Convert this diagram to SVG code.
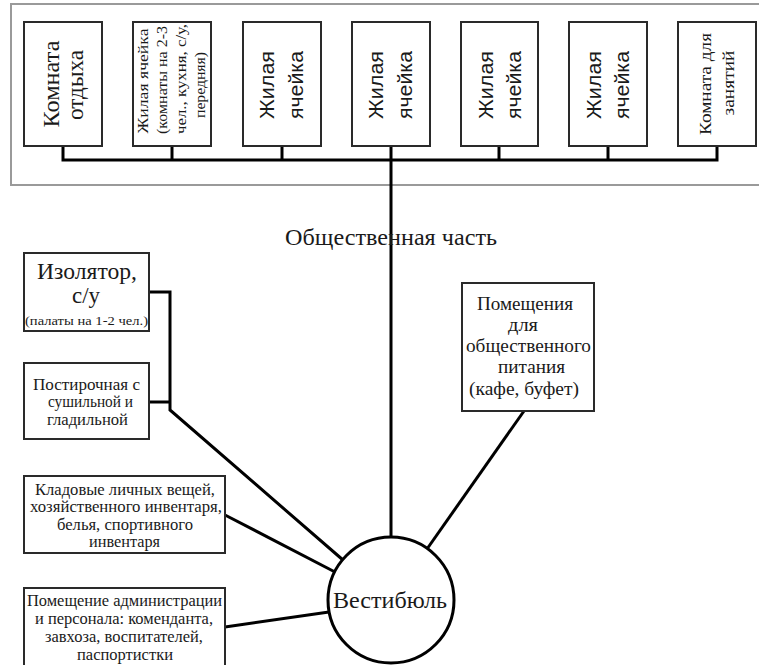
<svg xmlns="http://www.w3.org/2000/svg" width="759" height="665" viewBox="0 0 759 665">
<style>
.frame{fill:none;stroke:#9a9a9a;stroke-width:2}
.box{fill:#fff;stroke:#2a2a2a;stroke-width:2}
.ln{fill:none;stroke:#000;stroke-width:3;stroke-linejoin:miter}
.s{font-family:"Liberation Serif","DejaVu Serif","Noto Serif",serif;fill:#1a1a1a;text-anchor:middle}
.a{font-family:"Liberation Sans","DejaVu Sans",sans-serif;fill:#1a1a1a;text-anchor:middle}
</style>
<rect width="759" height="665" fill="#fff"/>
<rect class="frame" x="11" y="4" width="752" height="181"/>

<g id="connectors">
<polyline class="ln" points="63,146 63,160 717,160 717,146"/>
<line class="ln" x1="172" y1="146" x2="172" y2="160"/>
<line class="ln" x1="282" y1="146" x2="282" y2="160"/>
<line class="ln" x1="499" y1="146" x2="499" y2="160"/>
<line class="ln" x1="608" y1="146" x2="608" y2="160"/>
<line class="ln" x1="391" y1="146" x2="391" y2="538"/>
<polyline class="ln" points="149,292 170,292 170,410 343,560"/>
<line class="ln" x1="149" y1="402" x2="170" y2="402"/>
<line class="ln" x1="225" y1="515" x2="335" y2="572"/>
<line class="ln" x1="225" y1="627" x2="329" y2="612"/>
<line class="ln" x1="524" y1="411" x2="427" y2="549"/>
</g>

<g id="n1">
<rect class="box" x="24" y="22" width="78" height="124"/>
<text class="s" font-size="24" transform="translate(59,84) rotate(-90)" textLength="87" lengthAdjust="spacingAndGlyphs">Комната</text>
<text class="s" font-size="24" transform="translate(83,85) rotate(-90)" textLength="70" lengthAdjust="spacingAndGlyphs">отдыха</text>
</g>
<g id="n2">
<rect class="box" x="133" y="22" width="78" height="124"/>
<text class="s" font-size="15" transform="translate(148,81) rotate(-90)" textLength="105" lengthAdjust="spacingAndGlyphs">Жилая ячейка</text>
<text class="s" font-size="15" transform="translate(167,80) rotate(-90)" textLength="108" lengthAdjust="spacingAndGlyphs">(комнаты на 2-3</text>
<text class="s" font-size="15" transform="translate(186,79) rotate(-90)" textLength="110" lengthAdjust="spacingAndGlyphs">чел., кухня, с/у,</text>
<text class="s" font-size="15" transform="translate(205,85) rotate(-90)" textLength="66" lengthAdjust="spacingAndGlyphs">передняя)</text>
</g>
<g id="n3">
<rect class="box" x="243" y="22" width="78" height="124"/>
<text class="a" font-size="21" transform="translate(274,85) rotate(-90)" textLength="68" lengthAdjust="spacingAndGlyphs">Жилая</text>
<text class="a" font-size="21" transform="translate(303,85) rotate(-90)" textLength="68" lengthAdjust="spacingAndGlyphs">ячейка</text>
</g>
<g id="n4">
<rect class="box" x="352" y="22" width="78" height="124"/>
<text class="a" font-size="21" transform="translate(383,85) rotate(-90)" textLength="68" lengthAdjust="spacingAndGlyphs">Жилая</text>
<text class="a" font-size="21" transform="translate(412,85) rotate(-90)" textLength="68" lengthAdjust="spacingAndGlyphs">ячейка</text>
</g>
<g id="n5">
<rect class="box" x="461" y="22" width="77" height="124"/>
<text class="a" font-size="21" transform="translate(493,85) rotate(-90)" textLength="68" lengthAdjust="spacingAndGlyphs">Жилая</text>
<text class="a" font-size="21" transform="translate(521,85) rotate(-90)" textLength="68" lengthAdjust="spacingAndGlyphs">ячейка</text>
</g>
<g id="n6">
<rect class="box" x="569" y="22" width="78" height="124"/>
<text class="a" font-size="21" transform="translate(601,85) rotate(-90)" textLength="68" lengthAdjust="spacingAndGlyphs">Жилая</text>
<text class="a" font-size="21" transform="translate(629,85) rotate(-90)" textLength="68" lengthAdjust="spacingAndGlyphs">ячейка</text>
</g>
<g id="n7">
<rect class="box" x="678" y="22" width="78" height="124"/>
<text class="s" font-size="17" transform="translate(711,84) rotate(-90)" textLength="102" lengthAdjust="spacingAndGlyphs">Комната для</text>
<text class="s" font-size="17" transform="translate(734,83) rotate(-90)" textLength="65" lengthAdjust="spacingAndGlyphs">занятий</text>
</g>

<g id="label-public">
<text class="s" font-size="23" x="391" y="245" textLength="212" lengthAdjust="spacingAndGlyphs">Общественная часть</text>
</g>

<g id="n-isolator">
<rect class="box" x="24" y="253" width="125" height="78"/>
<text class="s" font-size="23" x="87" y="279" textLength="100" lengthAdjust="spacingAndGlyphs">Изолятор,</text>
<text class="s" font-size="23" x="86" y="303" textLength="28" lengthAdjust="spacingAndGlyphs">с/у</text>
<text class="s" font-size="13" x="86.5" y="325" textLength="123" lengthAdjust="spacingAndGlyphs">(палаты на 1-2 чел.)</text>
</g>
<g id="n-laundry">
<rect class="box" x="24" y="363" width="125" height="76"/>
<text class="s" font-size="16" x="86.5" y="390" textLength="107" lengthAdjust="spacingAndGlyphs">Постирочная с</text>
<text class="s" font-size="16" x="90.5" y="407" textLength="85" lengthAdjust="spacingAndGlyphs">сушильной и</text>
<text class="s" font-size="16" x="87.5" y="425" textLength="81" lengthAdjust="spacingAndGlyphs">гладильной</text>
</g>
<g id="n-storage">
<rect class="box" x="24" y="476" width="201" height="77"/>
<text class="s" font-size="16" x="125" y="495" textLength="180" lengthAdjust="spacingAndGlyphs">Кладовые личных вещей,</text>
<text class="s" font-size="16" x="126" y="512" textLength="192" lengthAdjust="spacingAndGlyphs">хозяйственного инвентаря,</text>
<text class="s" font-size="16" x="125" y="530" textLength="136" lengthAdjust="spacingAndGlyphs">белья, спортивного</text>
<text class="s" font-size="16" x="124.5" y="547" textLength="71" lengthAdjust="spacingAndGlyphs">инвентаря</text>
</g>
<g id="n-admin">
<rect class="box" x="24" y="588" width="201" height="82"/>
<text class="s" font-size="16" x="124.5" y="606" textLength="195" lengthAdjust="spacingAndGlyphs">Помещение администрации</text>
<text class="s" font-size="16" x="124" y="624" textLength="178" lengthAdjust="spacingAndGlyphs">и персонала: коменданта,</text>
<text class="s" font-size="16" x="124" y="642" textLength="158" lengthAdjust="spacingAndGlyphs">завхоза, воспитателей,</text>
<text class="s" font-size="16" x="125" y="660" textLength="96" lengthAdjust="spacingAndGlyphs">паспортистки</text>
</g>
<g id="n-food">
<rect class="box" x="462" y="283" width="132" height="128"/>
<text class="s" font-size="18" x="525" y="310" textLength="96" lengthAdjust="spacingAndGlyphs">Помещения</text>
<text class="s" font-size="18" x="523" y="331" textLength="30" lengthAdjust="spacingAndGlyphs">для</text>
<text class="s" font-size="18" x="528.5" y="352" textLength="125" lengthAdjust="spacingAndGlyphs">общественного</text>
<text class="s" font-size="18" x="531.5" y="373" textLength="67" lengthAdjust="spacingAndGlyphs">питания</text>
<text class="s" font-size="18" x="524" y="395" textLength="110" lengthAdjust="spacingAndGlyphs">(кафе, буфет)</text>
</g>
<g id="n-lobby">
<circle cx="391" cy="600" r="63" fill="#fff" stroke="#000" stroke-width="3"/>
<text class="s" font-size="24" x="390" y="608" textLength="114" lengthAdjust="spacingAndGlyphs">Вестибюль</text>
</g>
</svg>
